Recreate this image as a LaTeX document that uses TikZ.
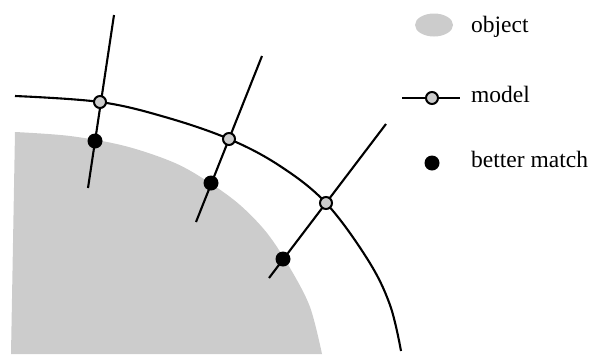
\documentclass[tikz,border=0pt]{standalone}
\usepackage{fontspec}
\setmainfont{Liberation Serif}
\usetikzlibrary{shapes.geometric}
\begin{document}
\begin{tikzpicture}[x=1pt,y=-1pt,
  stroke/.style={line width=2.1pt},
  modelpt/.style={circle,draw=black,line width=2pt,fill=black!20,minimum size=12pt,inner sep=0pt},
  matchpt/.style={circle,fill=black,minimum size=15pt,inner sep=0pt},
  legtext/.style={anchor=base west,inner sep=0pt,font=\fontsize{23.5}{26}\selectfont}]
\useasboundingbox (0,0) rectangle (592,354);
% object
\fill[black!20] (15,132) -- plot[smooth,tension=0.55] coordinates {(15,132) (70,136) (125,146) (175,163) (210,183) (240,205) (267,233) (290,268) (310,307) (322,354)} -- (11,354) -- cycle;
% model curve
\draw[stroke] plot[smooth,tension=0.6] coordinates {(15,96) (100,102) (165,117) (229,139) (280,166) (326,203) (368,260) (390,305) (401,351)};
% normals
\coordinate (t1) at (114,15); \coordinate (e1) at (88,188);
\coordinate (t2) at (262,56); \coordinate (e2) at (196,222);
\coordinate (t3) at (386,124); \coordinate (e3) at (269,278);
\draw[stroke] (t1) -- (e1);
\draw[stroke] (t2) -- (e2);
\draw[stroke] (t3) -- (e3);
\node[modelpt] (m1) at (100,102) {};
\node[modelpt] (m2) at (229,139) {};
\node[modelpt] (m3) at (326,203) {};
\node[matchpt] (b1) at (95,141) {};
\node[matchpt] (b2) at (211,183) {};
\node[matchpt] (b3) at (283,259) {};
% legend
\node[ellipse,fill=black!20,minimum width=38pt,minimum height=23pt,inner sep=0pt] (lo) at (434,25) {};
\node[legtext] (to) at (471,32) {object};
\coordinate (la) at (402,98); \coordinate (lb) at (460,98);
\draw[stroke] (la) -- (lb);
\node[modelpt] (lm) at (432,98) {};
\node[legtext] (tm) at (471,102) {model};
\node[matchpt] (lk) at (432,163) {};
\node[legtext] (tk) at (471,167) {better match};
\end{tikzpicture}
\end{document}
